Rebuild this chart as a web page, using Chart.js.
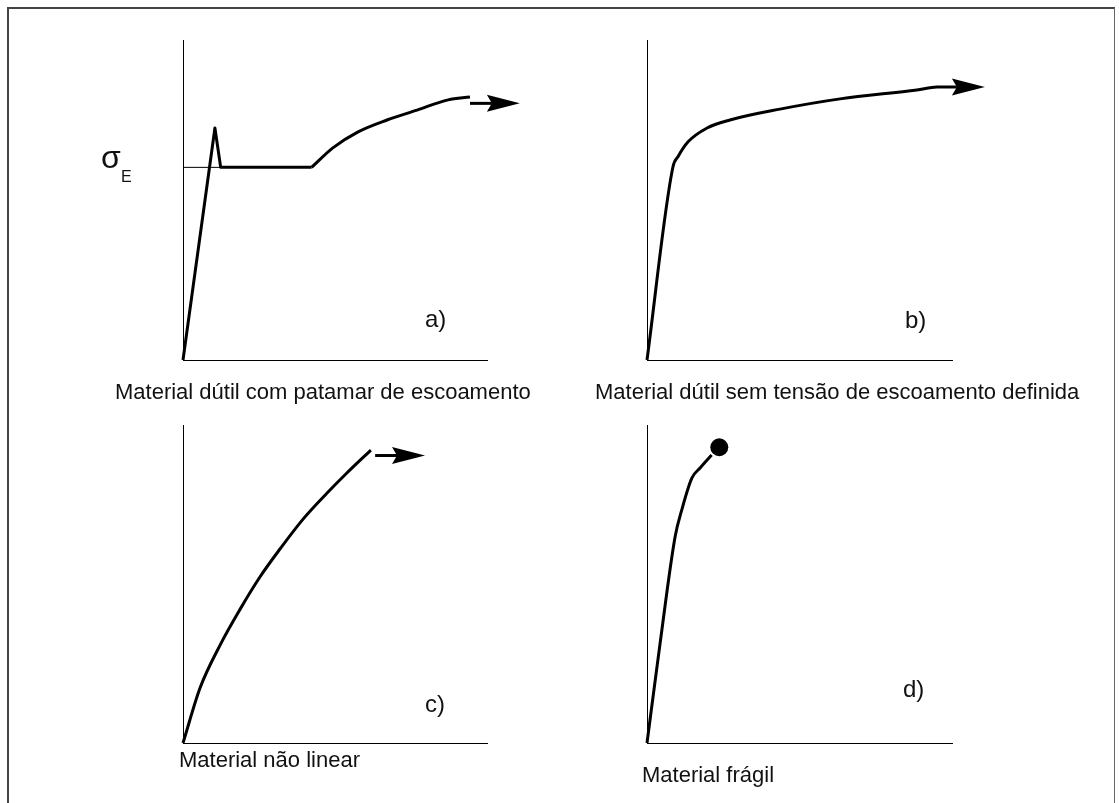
<!DOCTYPE html>
<html>
<head>
<meta charset="utf-8">
<script src="https://cdn.jsdelivr.net/npm/chart.js"></script>
<style>
  body { margin: 0; background: #fff; width: 1119px; height: 803px; overflow: hidden; position: relative; font-family: "Liberation Sans", Arial, sans-serif; }
  #frame { position: absolute; left: 7px; top: 7px; width: 1105px; height: 820px; border-left: 2px solid #444; border-top: 2px solid #444; border-right: 1px solid #666; }
  canvas { position: absolute; }
  .t { position: absolute; white-space: nowrap; line-height: 1; color: #111; }
  .cap { font-size: 22px; }
  .lab { font-size: 24px; }
</style>
</head>
<body>
<div id="frame"></div>
<canvas id="chartA" width="450" height="380" style="left:100px;top:30px"></canvas>
<canvas id="chartB" width="450" height="380" style="left:560px;top:30px"></canvas>
<canvas id="chartC" width="450" height="390" style="left:100px;top:410px"></canvas>
<canvas id="chartD" width="450" height="390" style="left:560px;top:410px"></canvas>

<div class="t" style="left:101px;top:141px;font-size:32px">σ</div>
<div class="t" style="left:121px;top:169px;font-size:16px">E</div>

<div class="t lab" style="left:425px;top:307px">a)</div>
<div class="t lab" style="left:905px;top:308px">b)</div>
<div class="t lab" style="left:425px;top:692px">c)</div>
<div class="t lab" style="left:903px;top:677px">d)</div>

<div class="t cap" style="left:115px;top:381px">Material dútil com patamar de escoamento</div>
<div class="t cap" style="left:595px;top:381px">Material dútil sem tensão de escoamento definida</div>
<div class="t cap" style="left:179px;top:749px">Material não linear</div>
<div class="t cap" style="left:642px;top:764px">Material frágil</div>

<script>
// a) ductile with yield plateau (x = strain, y = stress, both 0-100 of the axis)
const aElasticX = [0, 10.5, 12.4, 42.3];
const aElasticY = [0, 72.5, 60.2, 60.2];
const aHardenX = [42.3, 49.3, 57.6, 67.1, 77.0, 87.2, 94.4];
const aHardenY = [60.2, 66.3, 71.3, 75.0, 78.1, 81.3, 82.2];
const aArrowX = [94.4, 101.6];
const aArrowY = [80.2, 80.2];
const yieldX = [0, 12.4];
const yieldY = [60.2, 60.2];

// b) ductile without defined yield stress
const bStrain = [0, 8.5, 10.2, 13.4, 19.7, 27.2, 43.6, 63.3, 88.5, 95.1, 101.6];
const bStress = [0, 60.3, 63.6, 68.1, 72.5, 75.0, 78.4, 81.6, 84.4, 85.3, 85.3];

// c) non linear
const cStrain = [0, 5.6, 12.2, 18.8, 25.3, 31.9, 39.5, 47.4, 53.9, 61.8];
const cStress = [0, 17.3, 30.8, 42.1, 52.2, 61.0, 70.4, 78.6, 84.9, 92.1];
const cArrowX = [63.2, 70.4];
const cArrowY = [90.4, 90.4];

// d) brittle, ends in rupture
const dStrain = [0, 4.3, 9.2, 11.4, 14.7, 17.4, 21.2];
const dStress = [0, 31.4, 64.8, 73.3, 83.3, 86.5, 90.6];
const dRupture = [23.7, 93.0];

function pts(xs, ys) {
  return xs.map((x, i) => ({ x: x, y: ys[i] }));
}

// draws a barbed arrow head in front of the last point of datasets flagged with arrowHead
const arrowPlugin = {
  id: 'arrowPlugin',
  afterDatasetsDraw(chart) {
    const ctx = chart.ctx;
    chart.data.datasets.forEach((ds, i) => {
      if (!ds.arrowHead) return;
      const els = chart.getDatasetMeta(i).data;
      const p1 = els[els.length - 2], p2 = els[els.length - 1];
      const ang = Math.atan2(p2.y - p1.y, p2.x - p1.x);
      const L = 28, back = 5, W = 8.5;
      ctx.save();
      ctx.translate(p2.x, p2.y);
      ctx.rotate(ang);
      ctx.beginPath();
      ctx.moveTo(L, 0);
      ctx.lineTo(-back, -W);
      ctx.lineTo(0, 0);
      ctx.lineTo(-back, W);
      ctx.closePath();
      ctx.fillStyle = '#000';
      ctx.fill();
      ctx.restore();
    });
  }
};

function lineSet(data, width, extra) {
  return Object.assign({
    data: data,
    showLine: true,
    borderColor: '#000',
    borderWidth: width,
    pointRadius: 0,
    tension: 0,
    clip: false,
    borderJoinStyle: 'round',
    borderCapStyle: 'butt'
  }, extra || {});
}

const smooth = { cubicInterpolationMode: 'monotone' };

function makeChart(id, datasets, pad) {
  new Chart(document.getElementById(id), {
    type: 'scatter',
    data: { datasets: datasets },
    plugins: [arrowPlugin],
    options: {
      responsive: false,
      animation: false,
      devicePixelRatio: 1,
      layout: { padding: pad },
      plugins: { legend: { display: false }, tooltip: { enabled: false } },
      events: [],
      scales: {
        x: {
          min: 0, max: 100,
          grid: { display: false, drawTicks: false },
          ticks: { display: false },
          border: { display: true, color: '#000', width: 1 }
        },
        y: {
          min: 0, max: 100,
          grid: { display: false, drawTicks: false },
          ticks: { display: false },
          border: { display: true, color: '#000', width: 1 }
        }
      }
    }
  });
}

makeChart('chartA', [
  lineSet(pts(yieldX, yieldY), 1),
  lineSet(pts(aElasticX, aElasticY), 3),
  lineSet(pts(aHardenX, aHardenY), 3, smooth),
  lineSet(pts(aArrowX, aArrowY), 3, { arrowHead: true })
], { left: 83, right: 63, top: 10, bottom: 50 });

makeChart('chartB', [
  lineSet(pts(bStrain, bStress), 3, Object.assign({ arrowHead: true }, smooth))
], { left: 87, right: 58, top: 10, bottom: 50 });

makeChart('chartC', [
  lineSet(pts(cStrain, cStress), 3, smooth),
  lineSet(pts(cArrowX, cArrowY), 3, { arrowHead: true })
], { left: 83, right: 63, top: 15, bottom: 57 });

makeChart('chartD', [
  lineSet(pts(dStrain, dStress), 3, smooth),
  { data: [{ x: dRupture[0], y: dRupture[1] }], pointRadius: 9, backgroundColor: '#000', borderWidth: 0, clip: false }
], { left: 87, right: 58, top: 15, bottom: 57 });
</script>
</body>
</html>
